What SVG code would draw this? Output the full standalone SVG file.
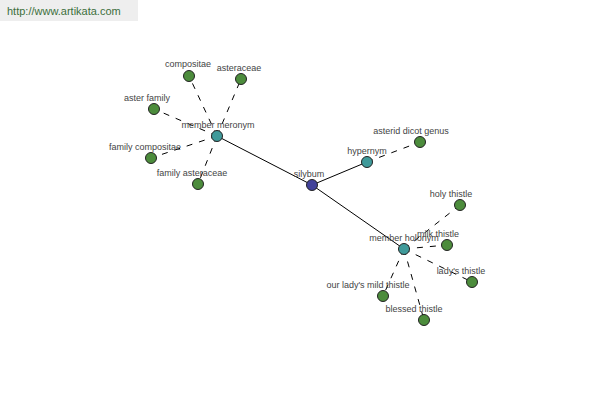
<svg xmlns="http://www.w3.org/2000/svg" width="600" height="400" viewBox="0 0 600 400">
<style>
text{font-family:"Liberation Sans",Arial,sans-serif;font-size:9px;fill:#444;text-anchor:middle}
.n circle{stroke:#222;stroke-width:1}
.leaf circle{fill:#4c8c3c}
.rel circle{fill:#3f9a9a}
.root circle{fill:#42429a}
.solid{stroke:#000;stroke-width:1;fill:none}
.dash{stroke:#000;stroke-width:1;fill:none;stroke-dasharray:6,7}
</style>
<rect x="0" y="0" width="138" height="21" fill="#eeeeee"/>
<text x="7" y="15" style="font-size:11px;fill:#3c6e3c;text-anchor:start">http://www.artikata.com</text>
<g id="edges">
<line class="solid" x1="312" y1="185" x2="217" y2="136"/>
<line class="solid" x1="312" y1="185" x2="367" y2="162"/>
<line class="solid" x1="312" y1="185" x2="404" y2="249"/>
<line class="dash" x1="367" y1="162" x2="420" y2="142"/>
<line class="dash" x1="217" y1="136" x2="189" y2="76"/>
<line class="dash" x1="217" y1="136" x2="241" y2="79"/>
<line class="dash" x1="217" y1="136" x2="154" y2="109"/>
<line class="dash" x1="217" y1="136" x2="151" y2="158"/>
<line class="dash" x1="217" y1="136" x2="198" y2="184"/>
<line class="dash" x1="404" y1="249" x2="460" y2="205"/>
<line class="dash" x1="404" y1="249" x2="447" y2="245"/>
<line class="dash" x1="404" y1="249" x2="472" y2="282"/>
<line class="dash" x1="404" y1="249" x2="383" y2="296"/>
<line class="dash" x1="404" y1="249" x2="424" y2="320"/>
</g>
<g id="silybum" class="n root"><circle cx="312" cy="185" r="5.5"/><text x="309" y="177">silybum</text></g>
<g id="hypernym" class="n rel"><circle cx="367" cy="162" r="5.5"/><text x="367" y="154">hypernym</text></g>
<g id="asterid-dicot-genus" class="n leaf"><circle cx="420" cy="142" r="5.5"/><text x="411" y="134">asterid dicot genus</text></g>
<g id="member-meronym" class="n rel"><circle cx="217" cy="136" r="5.5"/><text x="218" y="128">member meronym</text></g>
<g id="compositae" class="n leaf"><circle cx="189" cy="76" r="5.5"/><text x="188" y="67">compositae</text></g>
<g id="asteraceae" class="n leaf"><circle cx="241" cy="79" r="5.5"/><text x="239" y="71">asteraceae</text></g>
<g id="aster-family" class="n leaf"><circle cx="154" cy="109" r="5.5"/><text x="147" y="101">aster family</text></g>
<g id="family-compositae" class="n leaf"><circle cx="151" cy="158" r="5.5"/><text x="145" y="150">family compositae</text></g>
<g id="family-asteraceae" class="n leaf"><circle cx="198" cy="184" r="5.5"/><text x="192" y="176">family asteraceae</text></g>
<g id="member-holonym" class="n rel"><circle cx="404" cy="249" r="5.5"/><text x="404" y="241">member holonym</text></g>
<g id="holy-thistle" class="n leaf"><circle cx="460" cy="205" r="5.5"/><text x="451" y="197">holy thistle</text></g>
<g id="milk-thistle" class="n leaf"><circle cx="447" cy="245" r="5.5"/><text x="438" y="237">milk thistle</text></g>
<g id="ladys-thistle" class="n leaf"><circle cx="472" cy="282" r="5.5"/><text x="461" y="274">lady's thistle</text></g>
<g id="our-ladys-mild-thistle" class="n leaf"><circle cx="383" cy="296" r="5.5"/><text x="368" y="288">our lady's mild thistle</text></g>
<g id="blessed-thistle" class="n leaf"><circle cx="424" cy="320" r="5.5"/><text x="414" y="312">blessed thistle</text></g>
</svg>
